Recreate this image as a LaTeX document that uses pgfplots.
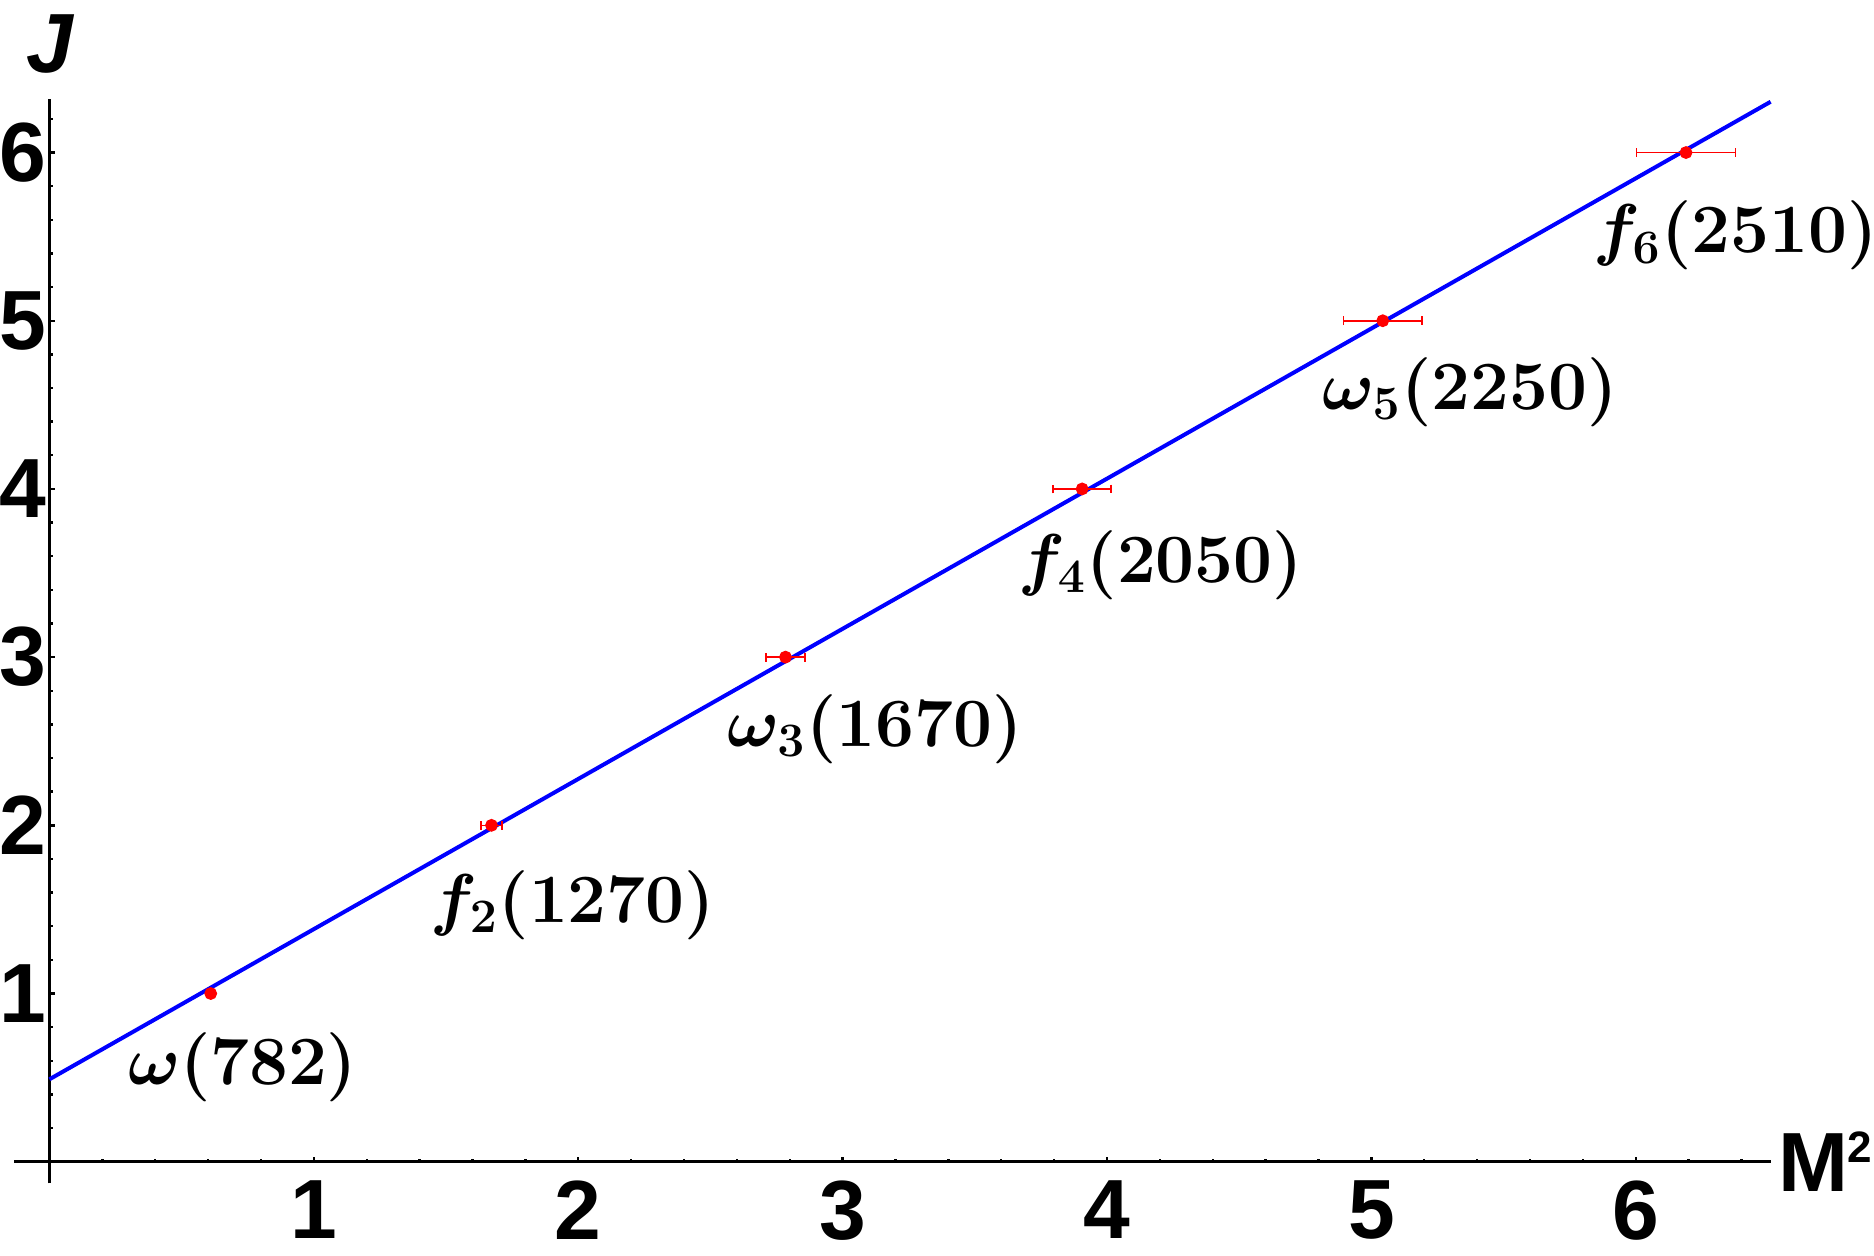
\documentclass[border=0pt]{standalone}
\usepackage[no-math]{fontspec}
\setmainfont{Liberation Sans}
\usepackage{amsmath}
\usepackage{pgfplots}
\pgfplotsset{compat=1.18}

% Regge trajectory points: M^2, J, error on M^2
\pgfplotstableread{
m2     j   err
0.610  1   0.012
1.672  2   0.040
2.784  3   0.074
3.906  4   0.110
5.043  5   0.149
6.190  6   0.187
}\reggedata

\newcommand{\lbl}[1]{{\fontsize{17}{17}\selectfont\boldmath$#1$}}

\begin{document}
\begin{tikzpicture}
\begin{axis}[
    scale only axis,
    width=439.2pt, height=271.2pt,
    xmin=-0.134, xmax=6.51,
    ymin=-0.129, ymax=6.32,
    axis lines=middle,
    axis line style={-, line width=0.7pt},
    xtick={1,2,3,4,5,6},
    ytick={1,2,3,4,5,6},
    minor xtick={0.2,0.4,...,6.41},
    minor ytick={0.2,0.4,...,6.21},
    tick align=inside,
    major tick length=1.3pt,
    minor tick length=0.8pt,
    tick style={black, line width=0.6pt},
    /pgf/number format/assume math mode=true,
    ticklabel style={font=\fontsize{21}{21}\selectfont\bfseries},
    xticklabel style={inner sep=0pt, anchor=north, yshift=-4.5pt},
    yticklabel style={inner sep=0pt, anchor=east, xshift=-0.6pt},
    clip=false,
]
\coordinate (bbl) at (axis cs:-0.187,-0.555);
\coordinate (btr) at (axis cs:6.901,6.907);

\addplot[blue, line width=1pt] coordinates {(0,0.490) (6.51,6.302)};

\addplot[only marks, mark=*, mark size=1.4pt, red,
    mark options={draw=red, fill=red},
    error bars/.cd, x dir=both, x explicit,
    error bar style={red, line width=0.4pt},
    error mark options={rotate=90, red, mark size=1.1pt, line width=0.4pt}]
    table[x=m2, y=j, x error=err] {\reggedata};

\node at (axis cs:0.731,0.561) {\lbl{\omega(782)}};
\node at (axis cs:1.979,1.527) {\lbl{f_2(1270)}};
\node at (axis cs:3.123,2.572) {\lbl{\omega_3(1670)}};
\node at (axis cs:4.203,3.546) {\lbl{f_4(2050)}};
\node at (axis cs:5.374,4.576) {\lbl{\omega_5(2250)}};
\node at (axis cs:6.377,5.507) {\lbl{f_6(2510)}};

\node[inner sep=0pt] at (axis cs:0,6.648) {\fontsize{21}{21}\selectfont\bfseries\itshape J};
\node[inner sep=0pt, anchor=west] at (axis cs:6.538,0) {\fontsize{21}{21}\selectfont\bfseries M\kern-0.4pt\raisebox{7.1pt}{\fontsize{11}{11}\selectfont 2}};
\end{axis}
\pgfresetboundingbox
\useasboundingbox (bbl) rectangle (btr);
\end{tikzpicture}
\end{document}
